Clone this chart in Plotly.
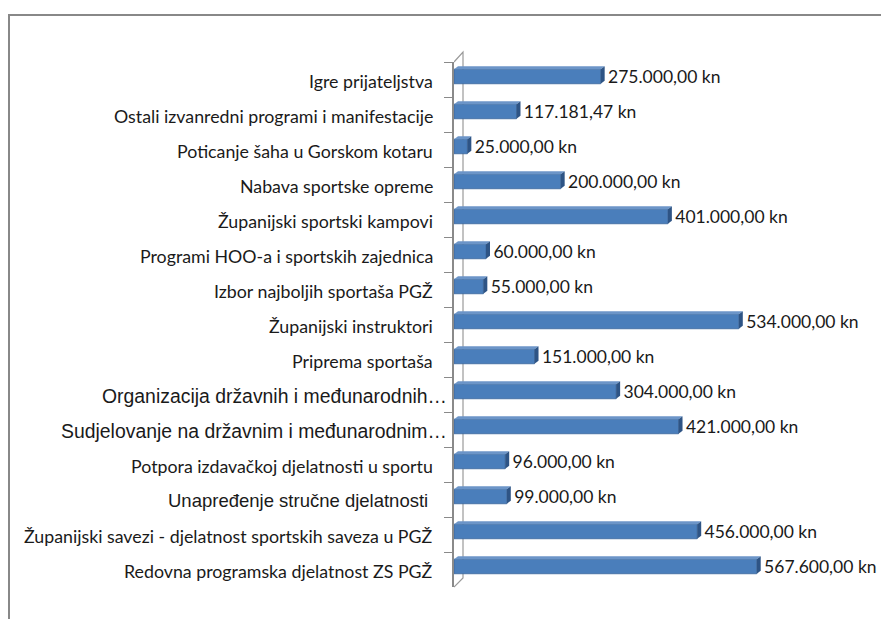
import plotly.graph_objects as go

categories = [
    "Igre prijateljstva",
    "Ostali izvanredni programi i manifestacije",
    "Poticanje šaha u Gorskom kotaru",
    "Nabava sportske opreme",
    "Županijski sportski kampovi",
    "Programi HOO-a i sportskih zajednica",
    "Izbor najboljih sportaša PGŽ",
    "Županijski instruktori",
    "Priprema sportaša",
    "Organizacija državnih i međunarodnih…",
    "Sudjelovanje na državnim i međunarodnim…",
    "Potpora izdavačkoj djelatnosti u sportu",
    "Unapređenje stručne djelatnosti",
    "Županijski savezi - djelatnost sportskih saveza u PGŽ",
    "Redovna programska djelatnost ZS PGŽ",
]
values = [275000.00, 117181.47, 25000.00, 200000.00, 401000.00, 60000.00, 55000.00,
          534000.00, 151000.00, 304000.00, 421000.00, 96000.00, 99000.00, 456000.00, 567600.00]
arial_labels = [
    "Organizacija državnih i međunarodnih…",
    "Sudjelovanje na državnim i međunarodnim…",
    "Unapređenje stručne djelatnosti",
]


def fmt_kn(v):
    s = f"{v:,.2f}"
    s = s.replace(",", "X").replace(".", ",").replace("X", ".")
    return s + " kn"


W, H = 881, 611
L, R, T, B = 446, 19, 54, 32
PLOT_W = W - L - R
PLOT_H = H - T - B
X_MAX = 780000
px_to_data = X_MAX / PLOT_W
band_px = PLOT_H / len(categories)
bar_px = 14.5
shift_px = 3
width = bar_px / band_px
offset = -width / 2 - shift_px / band_px

fig = go.Figure()
fig.add_trace(go.Bar(
    y=categories,
    x=values,
    orientation="h",
    width=width,
    offset=offset,
    marker=dict(color="#4A7EBB", line=dict(color="#3A669C", width=0.8)),
    text=["\u2009\u2009" + fmt_kn(v) for v in values],
    textposition="outside",
    constraintext="none",
    textfont=dict(family="Lato", size=17.5, color="#1a1a1a"),
    cliponaxis=False,
    hoverinfo="skip",
))

shapes = []
dx = 4 * px_to_data
half = bar_px / 2
for i, v in enumerate(values):
    yt = shift_px + half
    yb = shift_px - half
    shapes.append(dict(
        type="path", xref="x", yref="y", ysizemode="pixel", yanchor=i,
        path=f"M 0,{yt} L {dx},{yt+3} L {v+dx},{yt+3} L {v},{yt} Z",
        fillcolor="#6C95C8", line=dict(width=0), layer="above",
    ))
    shapes.append(dict(
        type="path", xref="x", yref="y", ysizemode="pixel", yanchor=i,
        path=f"M {v},{yb} L {v+dx},{yb+3} L {v+dx},{yt+3} L {v},{yt} Z",
        fillcolor="#2E5485", line=dict(width=0), layer="above",
    ))

shapes.append(dict(
    type="path", xref="x", yref="paper", xsizemode="pixel", xanchor=0,
    path=f"M 0,1.0 L 9,{1 + 10 / PLOT_H} L 9,{9 / PLOT_H} L 0,0 ",
    line=dict(color="#9a9a9a", width=1.2), layer="below",
))
shapes.append(dict(
    type="rect", xref="paper", yref="paper",
    x0=(1 - L) / PLOT_W, x1=(W + 20 - L) / PLOT_W,
    y0=-(B + 20) / PLOT_H, y1=(H - B - 7) / PLOT_H,
    line=dict(color="#888888", width=2), fillcolor="rgba(0,0,0,0)", layer="below",
))

annotations = []
for c in categories:
    if c in arial_labels:
        if c.endswith("…"):
            fam, size, xs = "Liberation Sans", 19.4, -5
        else:
            fam, size, xs = "Liberation Sans", 18.5, -24
    else:
        fam, size, xs = "Lato", 17.8, -19
    annotations.append(dict(
        text=c, xref="paper", yref="y", x=0, y=c, xanchor="right", yanchor="middle",
        xshift=xs, yshift=-1, showarrow=False,
        font=dict(family=fam, size=size, color="#1a1a1a"),
    ))

fig.update_layout(
    width=W, height=H,
    margin=dict(l=L, r=R, t=T, b=B),
    paper_bgcolor="white", plot_bgcolor="white",
    showlegend=False,
    shapes=shapes,
    annotations=annotations,
    xaxis=dict(range=[0, X_MAX], visible=False, fixedrange=True),
    yaxis=dict(
        type="category",
        categoryorder="array", categoryarray=categories,
        autorange="reversed",
        showticklabels=False,
        showline=True, linecolor="#8a8a8a", linewidth=1.5,
        ticks="outside", ticklen=8, tickcolor="#8a8a8a", tickwidth=1.2,
        tickson="boundaries",
        showgrid=False, zeroline=False,
    ),
)

fig.write_html("out.html")
